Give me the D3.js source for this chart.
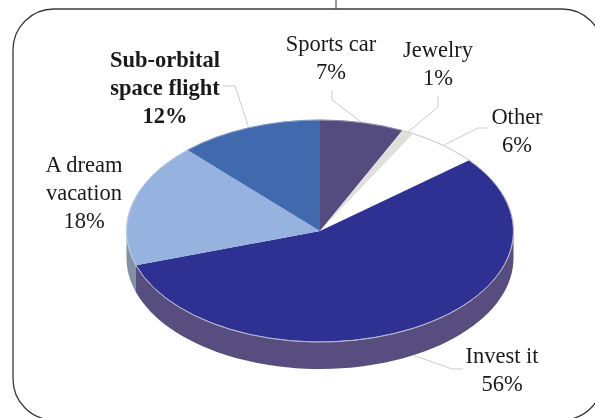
<!DOCTYPE html>
<html><head><meta charset="utf-8">
<script src="https://cdn.jsdelivr.net/npm/d3@7"></script>
<style>html,body{margin:0;padding:0;background:#fff;overflow:hidden}svg{display:block}
text{font-family:"Liberation Serif",serif;font-size:22.5px;fill:#1a1a1a;text-anchor:middle}</style>
</head><body><svg id="c" width="595" height="418"></svg>
<script>
const categories=["Sports car","Jewelry","Other","Invest it","A dream vacation","Sub-orbital space flight"];
const values=[7,1,6,56,18,12];
const labelLines=[["Sports car"],["Jewelry"],["Other"],["Invest it"],["A dream","vacation"],["Sub-orbital","space flight"]];
const boldLabels=["Sub-orbital space flight"];
const topColors=["#544c7f","#e2dedb","#ffffff","#2e3192","#95b3de","#4169ae"];
const sideColors=["#544c7f","#e2dedb","#ffffff","#574d7e","#8290a8","#4169ae"];
const rimColors=["#8f8aa8","#d8d4d0","#cfcac6","#b9b9d0","#b5c9e6","#7f9bc8"];

const W=595,H=418,cx=320,cy=231,rx=193.5,ry=111,depth=27;
const labelX=[331,438,517,502,84,165];
const labelY=[51,57,124,363,172,67];
const elbows=[[[332,100],[332,90]],[[438,107],[438,96]],[[478,128],[488,128]],[[452,369],[463,369]],[],[[235,86],[223,86]]];

const svg=d3.select("#c");
svg.append("rect").attr("width",W).attr("height",H).attr("fill","#fff");
svg.append("line").attr("x1",336).attr("x2",336).attr("y1",0).attr("y2",9).attr("stroke","#333").attr("stroke-width",1);
svg.append("rect").attr("x",13).attr("y",9).attr("width",590).attr("height",411).attr("rx",41).attr("ry",41)
  .attr("fill","none").attr("stroke","#3a3a3a").attr("stroke-width",1.3);

const arcs=d3.pie().sort(null).value(d=>d)(values);
const px=t=>cx+rx*Math.sin(t), py=t=>cy-ry*Math.cos(t);
const g=svg.append("g").style("filter","blur(0.5px)");

// side wall, lower half only
const line=d3.line().x(d=>d[0]).y(d=>d[1]);
arcs.forEach((a,i)=>{
  const s=Math.max(a.startAngle,Math.PI/2), e=Math.min(a.endAngle,3*Math.PI/2);
  if(e<=s) return;
  const ts=d3.range(0,61).map(k=>s+(e-s)*k/60);
  const pts=ts.map(t=>[px(t),py(t)]).concat(ts.slice().reverse().map(t=>[px(t),py(t)+depth]));
  g.append("path").attr("d",line(pts)+"Z").attr("fill",sideColors[i]);
});

// top face: circular arcs squashed into an ellipse
const arcGen=d3.arc().innerRadius(0).outerRadius(rx);
const topFace=g.append("g").attr("transform",`translate(${cx},${cy}) scale(1,${ry/rx})`);
topFace.selectAll("path.slice").data(arcs).join("path").attr("class","slice").attr("d",arcGen).attr("fill",(d,i)=>topColors[i]);

// thin pale rim
const rim=d3.arc().innerRadius(rx).outerRadius(rx);
topFace.selectAll("path.rim").data(arcs).join("path").attr("class","rim")
  .attr("d",d=>rim(d)).attr("fill","none").attr("stroke",(d,i)=>rimColors[i])
  .attr("stroke-width",0.8).attr("vector-effect","non-scaling-stroke");

// leader lines
arcs.forEach((a,i)=>{
  if(!elbows[i].length) return;
  const m=(a.startAngle+a.endAngle)/2;
  const y0=py(m)+(m>Math.PI/2&&m<3*Math.PI/2?depth:0);
  g.append("path").attr("d",line([[px(m),y0],...elbows[i]])).attr("fill","none")
   .attr("stroke","#cfcbc8").attr("stroke-width",1);
});

// labels
const step=28;
categories.forEach((c,i)=>{
  const t=g.append("text").attr("x",labelX[i]).attr("y",labelY[i]);
  if(boldLabels.includes(c)) t.style("font-weight","bold");
  const rows=[...labelLines[i],values[i]+"%"];
  rows.forEach((r,k)=>t.append("tspan").attr("x",labelX[i]).attr("y",labelY[i]+k*step).text(r));
});
</script></body></html>
